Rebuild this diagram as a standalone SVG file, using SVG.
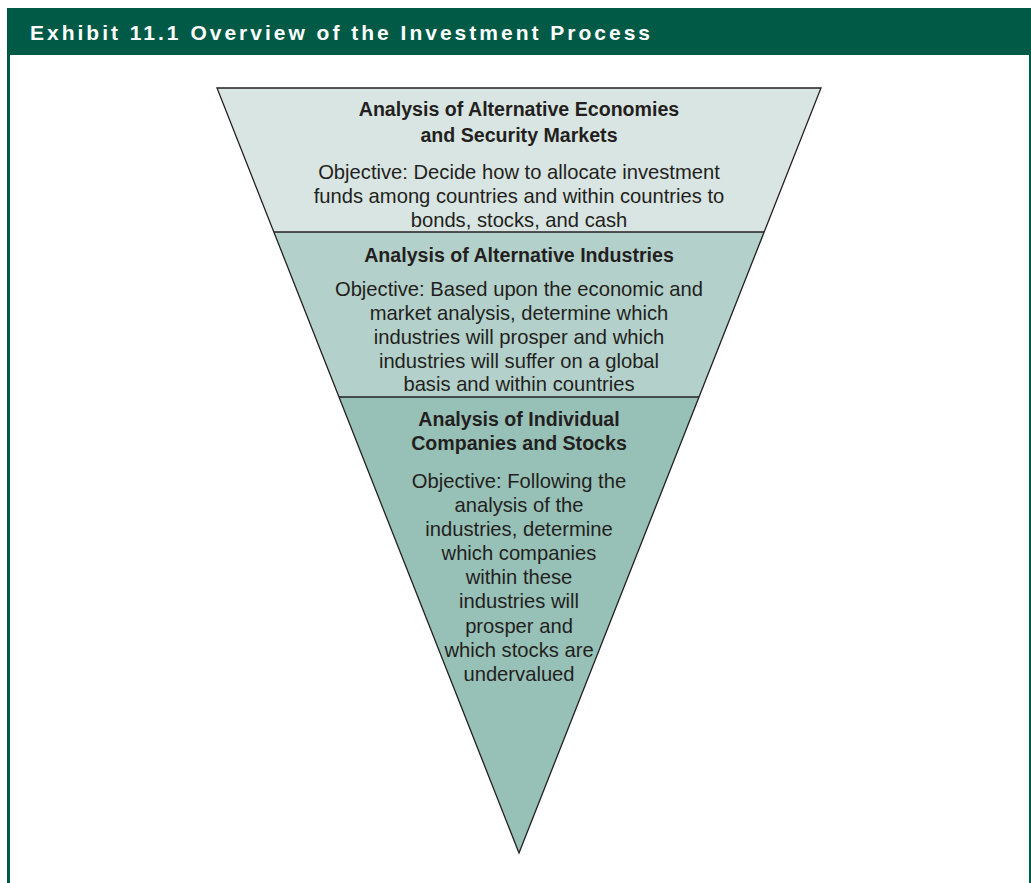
<svg xmlns="http://www.w3.org/2000/svg" width="1031" height="883" viewBox="0 0 1031 883">
<style>
.hdr{font-family:"Liberation Sans",Arial,sans-serif;font-weight:bold;font-size:21px;fill:#fff;letter-spacing:3px}
.t{font-family:"Liberation Sans",Arial,sans-serif;font-weight:bold;font-size:19.6px;fill:#231f20;text-anchor:middle}
.o{font-family:"Liberation Sans",Arial,sans-serif;font-size:20.2px;fill:#231f20;text-anchor:middle}
.band{stroke:none}
</style>
<rect x="0" y="0" width="1031" height="883" fill="#fff"/>
<g id="frame">
<rect x="7" y="8" width="1024" height="47" fill="#005a46"/>
<rect x="7" y="55" width="3" height="828" fill="#005a46"/>
<rect x="1029" y="55" width="2" height="828" fill="#005a46"/>
<text class="hdr" x="30" y="40">Exhibit 11.1 Overview of the Investment Process</text>
</g>
<g id="level1">
<polygon class="band" points="217,88 821,88 764,232 274,232" fill="#d9e5e2"/>
<text class="t" x="519" y="116">Analysis of Alternative Economies</text>
<text class="t" x="519" y="142">and Security Markets</text>
<text class="o" x="519" y="179">Objective: Decide how to allocate investment</text>
<text class="o" x="519" y="203">funds among countries and within countries to</text>
<text class="o" x="519" y="227">bonds, stocks, and cash</text>
</g>
<g id="level2">
<polygon class="band" points="274,232 764,232 699,397 339,397" fill="#b3d0ca"/>
<text class="t" x="519" y="262">Analysis of Alternative Industries</text>
<text class="o" x="519" y="296">Objective: Based upon the economic and</text>
<text class="o" x="519" y="320">market analysis, determine which</text>
<text class="o" x="519" y="344">industries will prosper and which</text>
<text class="o" x="519" y="368">industries will suffer on a global</text>
<text class="o" x="519" y="391">basis and within countries</text>
</g>
<g id="level3">
<polygon class="band" points="339,397 699,397 519,853" fill="#97c0b6"/>
<text class="t" x="519" y="426">Analysis of Individual</text>
<text class="t" x="519" y="450">Companies and Stocks</text>
<text class="o" x="519" y="488">Objective: Following the</text>
<text class="o" x="519" y="512">analysis of the</text>
<text class="o" x="519" y="536">industries, determine</text>
<text class="o" x="519" y="560">which companies</text>
<text class="o" x="519" y="584">within these</text>
<text class="o" x="519" y="608">industries will</text>
<text class="o" x="519" y="633">prosper and</text>
<text class="o" x="519" y="657">which stocks are</text>
<text class="o" x="519" y="681">undervalued</text>
</g>
<g id="connectors" fill="none" stroke="#231f20" stroke-width="1.3">
<polygon points="217,88 821,88 519,853" stroke-linejoin="miter"/>
<line x1="274" y1="232" x2="764" y2="232"/>
<line x1="339" y1="397" x2="699" y2="397"/>
</g>
</svg>
